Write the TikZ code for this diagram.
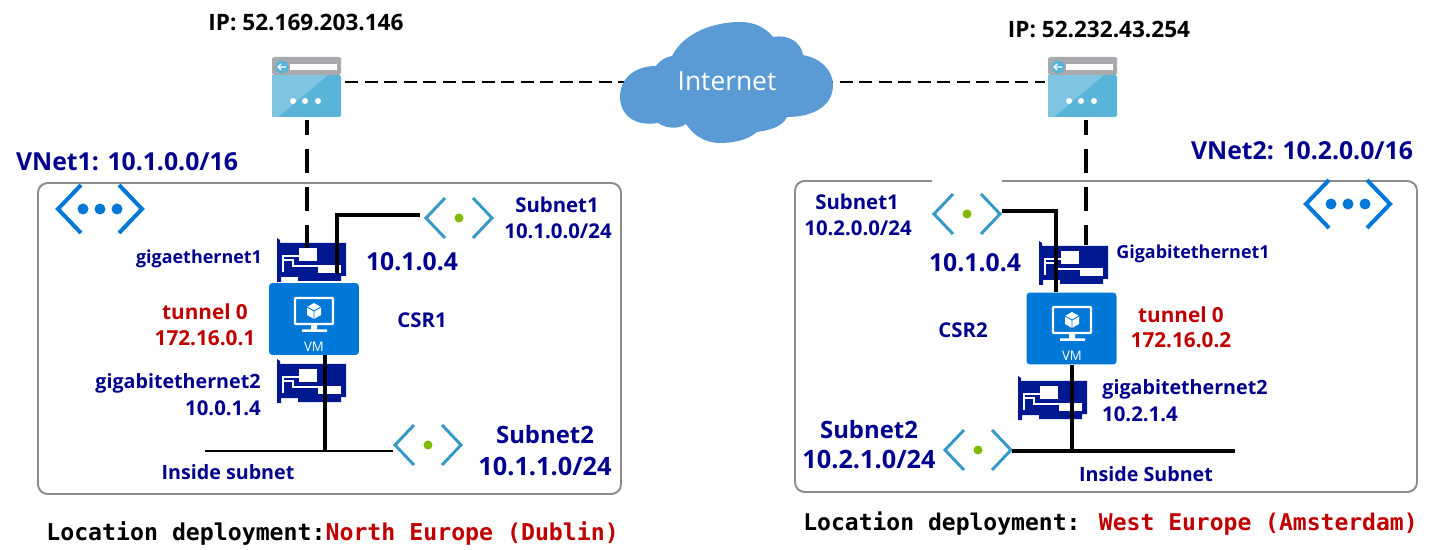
\documentclass[tikz,border=0pt]{standalone}
\usepackage{fontspec}
\setmainfont{Open Sans}
\newfontfamily\locfont{DejaVu Sans Mono}
\definecolor{azure}{HTML}{0078D7}
\definecolor{subnetblue}{HTML}{3999C6}
\definecolor{subnetgreen}{HTML}{7FBA00}
\definecolor{gwblue}{HTML}{59B4D9}
\definecolor{gwlight}{HTML}{7FC5E1}
\definecolor{gwgray}{HTML}{A7A9AC}
\definecolor{nicblue}{HTML}{00188F}
\definecolor{labelblue}{HTML}{00008F}
\definecolor{labelred}{HTML}{C00000}
\definecolor{cloudblue}{HTML}{5B9BD5}
\tikzset{
  lblvnet/.style={text=labelblue,font=\bfseries\fontsize{14.1}{16}\selectfont},
  lblsub/.style={text=labelblue,font=\bfseries\fontsize{13.6}{16}\selectfont},
  lblcidr/.style={text=labelblue,font=\bfseries\fontsize{14.4}{16}\selectfont},
  lblmid/.style={text=labelblue,font=\bfseries\fontsize{11.6}{13}\selectfont},
  lbleth/.style={text=labelblue,font=\bfseries\fontsize{11.2}{13}\selectfont},
  lblsmall/.style={text=labelblue,font=\bfseries\fontsize{10.2}{12}\selectfont},
  lbltun/.style={text=labelred,font=\bfseries\fontsize{11.8}{13}\selectfont},
  lblip/.style={text=black,font=\bfseries\fontsize{12.85}{14}\selectfont},
  lblloc/.style={font=\locfont\bfseries\fontsize{13.2}{15}\selectfont},
  vnetbox/.style={draw=black!45,line width=1.1pt,rounded corners=5.5pt},
  wan/.style={line width=1.1pt,dash pattern=on 7.5pt off 3.6pt},
  drop/.style={line width=1.8pt,dash pattern=on 13.6pt off 8pt,dash phase=5pt},
  lan/.style={line width=1.8pt},
  lanthin/.style={line width=1.1pt},
  vmbox/.style={fill=azure,rounded corners=2pt,minimum width=1.8cm,minimum height=1.44cm},
  vneticon/.pic={
    \draw[azure,line width=2.3pt] (-19,-24) -- (-42,0) -- (-19,24);
    \draw[azure,line width=2.3pt] (19,-24) -- (42,0) -- (19,24);
    \foreach \xd in {-17,0,17} \fill[azure] (\xd,0) circle (5.5);
  },
  subneticon/.pic={
    \draw[subnetblue,line width=1.7pt] (-14,-20) -- (-33,0) -- (-14,20);
    \draw[subnetblue,line width=1.7pt] (14,-20) -- (33,0) -- (14,20);
    \fill[subnetgreen] (0,0) circle (4.5);
  },
  gwicon/.pic={
    \fill[gwblue,rounded corners=1pt] (0,18) rectangle (69,60);
    \fill[gwlight] (0,18) -- (56,18) -- (6,60) -- (0,60) -- cycle;
    \fill[gwgray,rounded corners=1pt] (0,0) rectangle (69,18);
    \fill[white] (18,7) rectangle (65,13);
    \fill[gwblue] (10,10) circle (6.5);
    \draw[white,line width=0.8pt] (14,10) -- (6,10) (9,7) -- (6,10) -- (9,13);
    \foreach \xd in {21,33,46} \fill[white] (\xd,44) circle (3);
  },
  nicicon/.pic={
    \fill[nicblue] (0,0) -- (3,2) -- (3,5) -- (69,5) -- (69,38) -- (64,38) -- (64,43) -- (21,43)
      -- (21,39) -- (4,39) -- (4,44) -- (0,44) -- cycle;
    \fill[white] (22,10) rectangle (40,23);
    \fill[white] (41,27) rectangle (64,35);
    \draw[white,line width=0.7pt] (5,18) -- (22,18) (5,22) -- (16,22) -- (16,28) -- (41,28);
    \draw[white,line width=0.7pt] (6,18) -- (6,34);
  },
  vmicon/.pic={
    \draw[white,line width=1.4pt,rounded corners=0.5pt] (27,15) rectangle (65,41);
    \fill[white] (43,41) rectangle (49,47) (34,46.5) rectangle (59,49);
    \fill[white] (46,20) -- (53,24) -- (53,32) -- (46,36) -- (39,32) -- (39,24) -- cycle;
    \draw[azure,line width=0.5pt] (39,24) -- (46,28) -- (53,24) (46,28) -- (46,36);
    \node[text=white,font=\fontsize{7.5}{9}\selectfont] (-txt) at (46,64) {VM};
  },
}
\begin{document}
\begin{tikzpicture}[x=0.02cm,y=-0.02cm,line cap=butt]
\useasboundingbox (0,0) rectangle (1433,550);

% network boxes
\draw[vnetbox] (38,183) rectangle (621,494);
\draw[vnetbox] (795,181) rectangle (1417,492);
\fill[white] (932,178) rectangle (1002,184);

% icons
\pic (gwa) at (272,57) {gwicon};
\pic (gwb) at (1048,57) {gwicon};
\pic (neta) at (100,209) {vneticon};
\pic (netb) at (1348,204) {vneticon};
\pic (suba) at (459,218) {subneticon};
\pic (subb) at (428,445) {subneticon};
\pic (subc) at (967,214) {subneticon};
\pic (subd) at (978,450) {subneticon};
\pic (nica) at (277,238) {nicicon};
\pic (nicb) at (277,359) {nicicon};
\pic (nicc) at (1039,241) {nicicon};
\pic (nicd) at (1018,376) {nicicon};

% connector ends
\coordinate (gwaE) at (345,82);
\coordinate (gwaS) at (307,120);
\coordinate (gwbW) at (1045,82);
\coordinate (gwbS) at (1086,120);
\coordinate (inetW) at (640,82);
\coordinate (inetE) at (820,82);
\coordinate (nicaD) at (307,248);
\coordinate (nicaL) at (337,274);
\coordinate (kneeA) at (337,215);
\coordinate (subaW) at (420,215);
\coordinate (nicbL) at (325,355);
\coordinate (teeB) at (325,451);
\coordinate (lanbW) at (205,451);
\coordinate (lanbE) at (393,451);
\coordinate (nicdD) at (1086,245);
\coordinate (subcE) at (1002,211);
\coordinate (kneeC) at (1056,211);
\coordinate (vmbN) at (1056,292);
\coordinate (vmbS) at (1072,365);
\coordinate (teeD) at (1072,451);
\coordinate (subdE) at (1012,451);
\coordinate (landE) at (1235,451);

\draw[wan] (gwaE) -- (inetW);
\draw[wan] (inetE) -- (gwbW);
\draw[drop] (gwaS) -- (nicaD);
\draw[drop] (gwbS) -- (nicdD);
\draw[lan] (nicaL) -- (kneeA) -- (subaW);
\draw[lan] (nicbL) -- (teeB);
\draw[lanthin] (lanbW) -- (lanbE);
\draw[lan] (subcE) -- (kneeC) -- (vmbN);
\draw[lan] (vmbS) -- (teeD);
\draw[lan] (subdE) -- (landE);

% virtual machines
\node[vmbox] (vma) at (314,319) {};
\pic (vmia) at (268,283) {vmicon};
\node[vmbox] (vmb) at (1071.5,328.5) {};
\pic (vmib) at (1026,292) {vmicon};

% cloud
\fill[cloudblue] (620,97) .. controls (620,78) and (635,66) .. (656,66)
  .. controls (660,60) and (666,57) .. (672,56)
  .. controls (684,32) and (715,22) .. (740,22)
  .. controls (755,22) and (766,28) .. (773,37)
  .. controls (788,34) and (801,42) .. (803,55)
  .. controls (820,58) and (833,70) .. (833,85)
  .. controls (833,108) and (810,117) .. (787,117)
  .. controls (782,127) and (770,130) .. (757,132)
  .. controls (748,140) and (733,143) .. (720,143)
  .. controls (705,143) and (693,135) .. (686,124)
  .. controls (678,130) and (665,128) .. (658,123)
  .. controls (635,127) and (620,115) .. (620,97) -- cycle;
\node[text=white,font=\fontsize{15}{18}\selectfont] (inet) at (727,81) {Internet};

% labels left
\node[lblip] (ipa) at (306,22) {IP: 52.169.203.146};
\node[lblvnet] (vneta) at (127,162) {VNet1: 10.1.0.0/16};
\node[lblsmall] (ethaa) at (199,259) {gigaethernet1};
\node[lblvnet] (addra) at (412,262) {10.1.0.4};
\node[lblmid] (subaa) at (557,205) {Subnet1};
\node[lblmid] (subab) at (558,231) {10.1.0.0/24};
\node[lbltun] (tuna) at (205,312) {tunnel 0};
\node[lbltun] (tunb) at (205,338) {172.16.0.1};
\node[lblmid] (csra) at (422,320) {CSR1};
\node[lbleth] (ethab) at (178,383) {gigabitethernet2};
\node[lblmid] (ethac) at (223,408) {10.0.1.4};
\node[lbleth] (insa) at (228,472) {Inside subnet};
\node[lblsub] (subba) at (545,435) {Subnet2};
\node[lblcidr] (subbb) at (545,466) {10.1.1.0/24};
\node[lblloc,anchor=west,inner sep=0pt] (loca) at (46,533) {Location deployment:\textcolor{labelred}{North Europe (Dublin)}};

% labels right
\node[lblip] (ipb) at (1099,29) {IP: 52.232.43.254};
\node[lblvnet] (vnetb) at (1302,151) {VNet2: 10.2.0.0/16};
\node[lblmid] (subca) at (857,202) {Subnet1};
\node[lblmid] (subcb) at (858,228) {10.2.0.0/24};
\node[lblvnet] (addrb) at (975,263) {10.1.0.4};
\node[lblsmall] (ethba) at (1193,254) {Gigabitethernet1};
\node[lbltun] (tunc) at (1181,315) {tunnel 0};
\node[lbltun] (tund) at (1181,340) {172.16.0.2};
\node[lblmid] (csrb) at (963,330) {CSR2};
\node[lbleth] (ethbb) at (1185,389) {gigabitethernet2};
\node[lblmid] (ethbc) at (1140,414) {10.2.1.4};
\node[lblsub] (subda) at (869,430) {Subnet2};
\node[lblcidr] (subdb) at (869,459) {10.2.1.0/24};
\node[lbleth] (insb) at (1146,474) {Inside Subnet};
\node[lblloc,anchor=west,inner sep=0pt,font=\locfont\bfseries\fontsize{13.1}{15}\selectfont] (locb) at (803,524) {Location deployment: \textcolor{labelred}{West Europe (Amsterdam)}};
\end{tikzpicture}
\end{document}
